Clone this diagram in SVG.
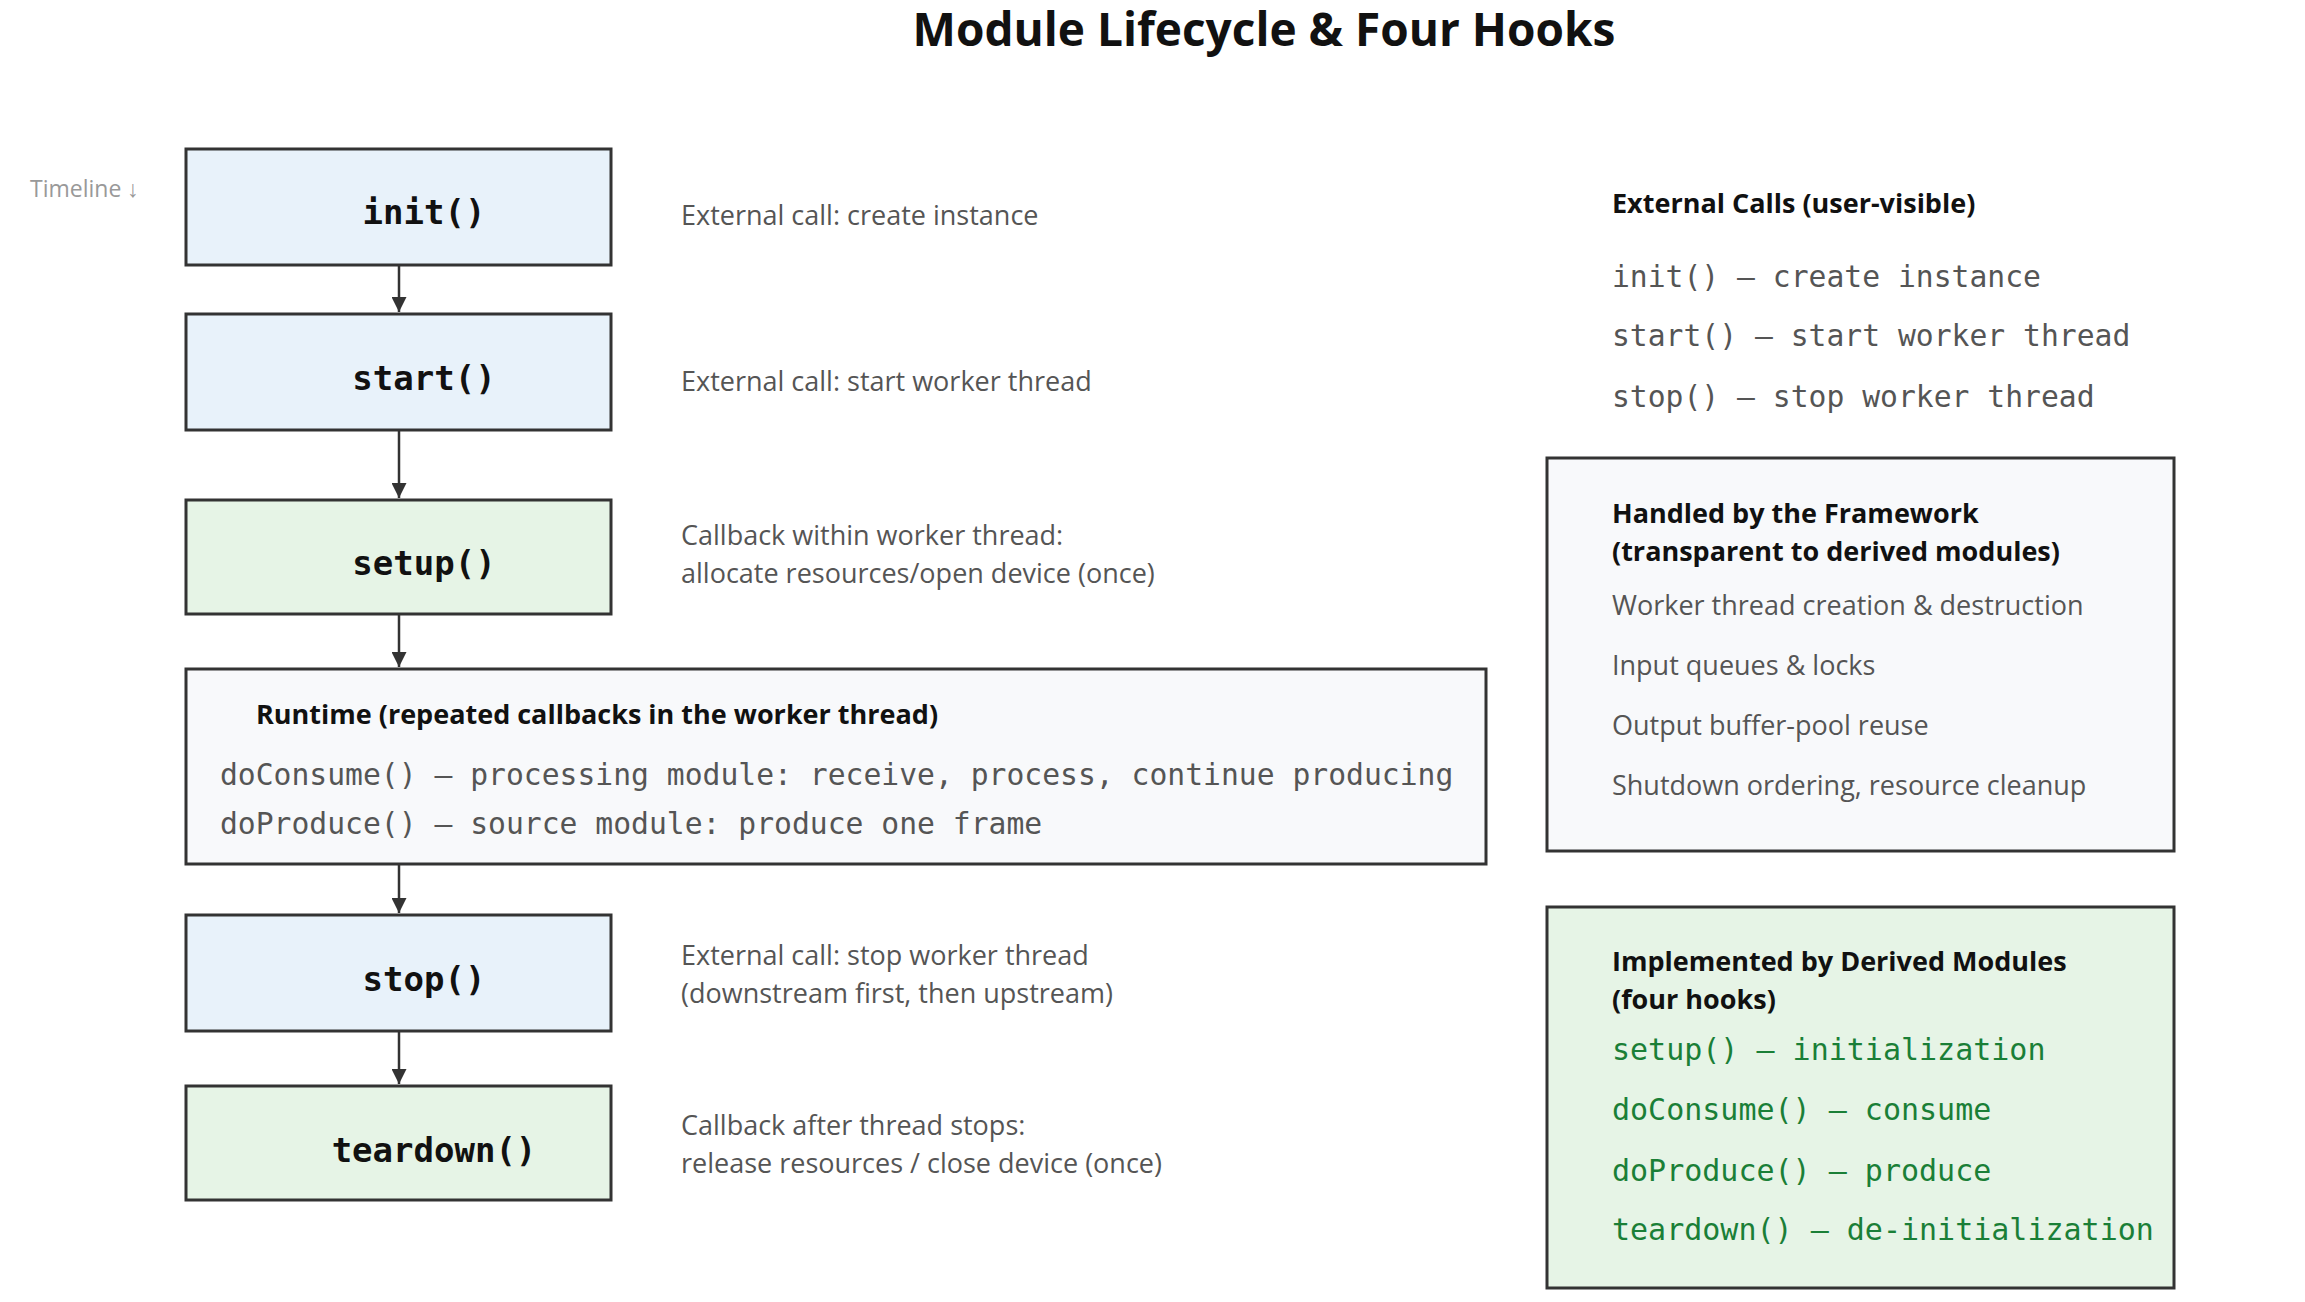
<svg xmlns="http://www.w3.org/2000/svg" width="2305" height="1302" viewBox="0 0 2305 1302">
<defs>
<marker id="ah" viewBox="0 0 10 10" refX="10" refY="5" markerWidth="6" markerHeight="6" orient="auto"><path d="M0,0 L10,5 L0,10 z" fill="#333"/></marker>
<style>
.box{stroke:#333;stroke-width:3}
.blue{fill:#e8f2fa}.green{fill:#e6f4e6}.gray{fill:#f8f9fb}
.lbl{font-family:"DejaVu Sans Mono",monospace;font-weight:bold;font-size:34px;fill:#111;text-anchor:middle}
.desc{font-family:"Open Sans",sans-serif;font-size:27px;fill:#555}
.hd{font-family:"Open Sans",sans-serif;font-weight:bold;font-size:27px;fill:#111}
.mono{font-family:"DejaVu Sans Mono",monospace;font-size:29.7px;fill:#555}
.gm{font-family:"DejaVu Sans Mono",monospace;font-size:30px;fill:#1a7f37}
.con{stroke:#333;stroke-width:2.5;fill:none;marker-end:url(#ah)}
</style>
</defs>
<rect width="2305" height="1302" fill="#fff"/>
<text x="1264" y="46" text-anchor="middle" font-family="Open Sans, sans-serif" font-weight="bold" font-size="46" fill="#111">Module Lifecycle &amp; Four Hooks</text>
<text x="30" y="197" font-family="Open Sans, sans-serif" font-size="23" fill="#999">Timeline ↓</text>
<g id="connectors">
<path class="con" d="M399 265 V312"/>
<path class="con" d="M399 430 V498"/>
<path class="con" d="M399 614 V667"/>
<path class="con" d="M399 864 V913"/>
<path class="con" d="M399 1031 V1084"/>
</g>
<g id="init"><rect class="box blue" x="186" y="149" width="425" height="116"/><text class="lbl" x="424" y="224">init()</text></g>
<g id="start"><rect class="box blue" x="186" y="314" width="425" height="116"/><text class="lbl" x="424" y="390">start()</text></g>
<g id="setup"><rect class="box green" x="186" y="500" width="425" height="114"/><text class="lbl" x="424" y="575">setup()</text></g>
<g id="runtime"><rect class="box gray" x="186" y="669" width="1300" height="195"/>
<text class="hd" x="256" y="724">Runtime (repeated callbacks in the worker thread)</text>
<text class="mono" x="220" y="785">doConsume() — processing module: receive, process, continue producing</text>
<text class="mono" x="220" y="834">doProduce() — source module: produce one frame</text></g>
<g id="stop"><rect class="box blue" x="186" y="915" width="425" height="116"/><text class="lbl" x="424" y="991">stop()</text></g>
<g id="teardown"><rect class="box green" x="186" y="1086" width="425" height="114"/><text class="lbl" x="434" y="1162">teardown()</text></g>
<g id="descs">
<text class="desc" x="681" y="225">External call: create instance</text>
<text class="desc" x="681" y="391">External call: start worker thread</text>
<text class="desc" x="681" y="545">Callback within worker thread:</text>
<text class="desc" x="681" y="583">allocate resources/open device (once)</text>
<text class="desc" x="681" y="965">External call: stop worker thread</text>
<text class="desc" x="681" y="1003">(downstream first, then upstream)</text>
<text class="desc" x="681" y="1135">Callback after thread stops:</text>
<text class="desc" x="681" y="1173">release resources / close device (once)</text>
</g>
<g id="external">
<text class="hd" x="1612" y="213">External Calls (user-visible)</text>
<text class="mono" x="1612" y="287" font-size="31">init() — create instance</text>
<text class="mono" x="1612" y="346" font-size="31">start() — start worker thread</text>
<text class="mono" x="1612" y="407" font-size="31">stop() — stop worker thread</text>
</g>
<g id="framework"><rect class="box gray" x="1547" y="458" width="627" height="393"/>
<text class="hd" x="1612" y="523">Handled by the Framework</text>
<text class="hd" x="1612" y="561">(transparent to derived modules)</text>
<text class="desc" x="1612" y="615">Worker thread creation &amp; destruction</text>
<text class="desc" x="1612" y="675">Input queues &amp; locks</text>
<text class="desc" x="1612" y="735">Output buffer-pool reuse</text>
<text class="desc" x="1612" y="795">Shutdown ordering, resource cleanup</text>
</g>
<g id="derived"><rect class="box green" x="1547" y="907" width="627" height="381"/>
<text class="hd" x="1612" y="971">Implemented by Derived Modules</text>
<text class="hd" x="1612" y="1009">(four hooks)</text>
<text class="gm" x="1612" y="1060">setup() — initialization</text>
<text class="gm" x="1612" y="1120">doConsume() — consume</text>
<text class="gm" x="1612" y="1181">doProduce() — produce</text>
<text class="gm" x="1612" y="1240">teardown() — de-initialization</text>
</g>
</svg>
